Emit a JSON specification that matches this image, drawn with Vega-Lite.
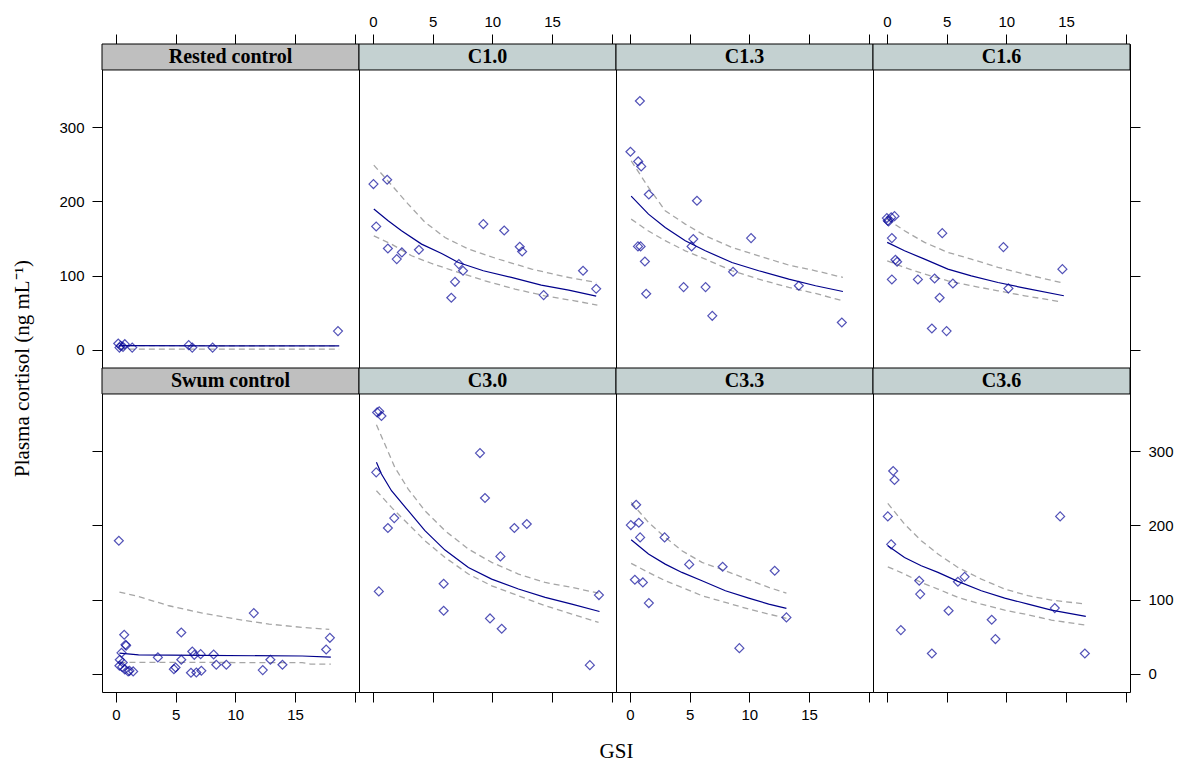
{
"$schema": "https://vega.github.io/schema/vega-lite/v6.json",
"background": "white",
"padding": {"left": 10, "top": 13, "right": 5, "bottom": 5},
"datasets": {
"strips": [{"panel":"Rested control"},{"panel":"C1.0"},{"panel":"C1.3"},{"panel":"C1.6"},{"panel":"Swum control"},{"panel":"C3.0"},{"panel":"C3.3"},{"panel":"C3.6"}],
"pts": [
{"panel":"Rested control","GSI":0.2,"cortisol":8.5},{"panel":"Rested control","GSI":0.4,"cortisol":5.4},{"panel":"Rested control","GSI":0.6,"cortisol":4},{"panel":"Rested control","GSI":0.75,"cortisol":7.6},{"panel":"Rested control","GSI":0.3,"cortisol":3},{"panel":"Rested control","GSI":1.37,"cortisol":3},{"panel":"Rested control","GSI":6.1,"cortisol":6.3},{"panel":"Rested control","GSI":6.4,"cortisol":3},{"panel":"Rested control","GSI":8.1,"cortisol":3},{"panel":"Rested control","GSI":18.6,"cortisol":25.2},
{"panel":"C1.0","GSI":0.05,"cortisol":223.3},{"panel":"C1.0","GSI":1.2,"cortisol":229.1},{"panel":"C1.0","GSI":0.28,"cortisol":166.2},{"panel":"C1.0","GSI":1.26,"cortisol":136.5},{"panel":"C1.0","GSI":2.0,"cortisol":122.2},{"panel":"C1.0","GSI":2.43,"cortisol":131.2},{"panel":"C1.0","GSI":3.86,"cortisol":134.8},{"panel":"C1.0","GSI":9.25,"cortisol":169.4},{"panel":"C1.0","GSI":11.0,"cortisol":160.8},{"panel":"C1.0","GSI":12.3,"cortisol":138.8},{"panel":"C1.0","GSI":12.5,"cortisol":132.5},{"panel":"C1.0","GSI":7.2,"cortisol":115.5},{"panel":"C1.0","GSI":7.55,"cortisol":106.5},{"panel":"C1.0","GSI":6.88,"cortisol":91.6},{"panel":"C1.0","GSI":6.57,"cortisol":70.1},{"panel":"C1.0","GSI":14.3,"cortisol":73.7},{"panel":"C1.0","GSI":17.6,"cortisol":106.5},{"panel":"C1.0","GSI":18.7,"cortisol":82.2},
{"panel":"C1.3","GSI":0.84,"cortisol":335.2},{"panel":"C1.3","GSI":0.05,"cortisol":266.8},{"panel":"C1.3","GSI":0.7,"cortisol":253.8},{"panel":"C1.3","GSI":0.95,"cortisol":247.1},{"panel":"C1.3","GSI":1.59,"cortisol":209.3},{"panel":"C1.3","GSI":5.62,"cortisol":200.8},{"panel":"C1.3","GSI":5.31,"cortisol":149.2},{"panel":"C1.3","GSI":5.17,"cortisol":139.3},{"panel":"C1.3","GSI":10.15,"cortisol":150.5},{"panel":"C1.3","GSI":0.68,"cortisol":139.3},{"panel":"C1.3","GSI":0.9,"cortisol":139.3},{"panel":"C1.3","GSI":1.26,"cortisol":119.0},{"panel":"C1.3","GSI":1.37,"cortisol":75.5},{"panel":"C1.3","GSI":4.5,"cortisol":84.5},{"panel":"C1.3","GSI":6.34,"cortisol":84.5},{"panel":"C1.3","GSI":6.9,"cortisol":45.8},{"panel":"C1.3","GSI":8.64,"cortisol":105.1},{"panel":"C1.3","GSI":14.15,"cortisol":86.3},{"panel":"C1.3","GSI":17.75,"cortisol":36.8},
{"panel":"C1.6","GSI":0.0,"cortisol":177.5},{"panel":"C1.6","GSI":0.14,"cortisol":173.0},{"panel":"C1.6","GSI":0.36,"cortisol":178.4},{"panel":"C1.6","GSI":0.64,"cortisol":180.1},{"panel":"C1.6","GSI":0.08,"cortisol":174.0},{"panel":"C1.6","GSI":0.42,"cortisol":150.5},{"panel":"C1.6","GSI":4.64,"cortisol":157.2},{"panel":"C1.6","GSI":9.76,"cortisol":138.4},{"panel":"C1.6","GSI":14.7,"cortisol":108.7},{"panel":"C1.6","GSI":0.72,"cortisol":121.3},{"panel":"C1.6","GSI":0.86,"cortisol":118.6},{"panel":"C1.6","GSI":0.42,"cortisol":94.8},{"panel":"C1.6","GSI":2.6,"cortisol":94.8},{"panel":"C1.6","GSI":4.0,"cortisol":96.1},{"panel":"C1.6","GSI":5.53,"cortisol":89.4},{"panel":"C1.6","GSI":4.42,"cortisol":70.1},{"panel":"C1.6","GSI":10.18,"cortisol":82.7},{"panel":"C1.6","GSI":3.77,"cortisol":28.7},{"panel":"C1.6","GSI":5.0,"cortisol":25.2},
{"panel":"Swum control","GSI":0.25,"cortisol":179.3},{"panel":"Swum control","GSI":0.7,"cortisol":52.6},{"panel":"Swum control","GSI":0.81,"cortisol":39.1},{"panel":"Swum control","GSI":0.86,"cortisol":38.0},{"panel":"Swum control","GSI":0.47,"cortisol":28.3},{"panel":"Swum control","GSI":0.33,"cortisol":18.9},{"panel":"Swum control","GSI":0.58,"cortisol":15.3},{"panel":"Swum control","GSI":0.3,"cortisol":10.8},{"panel":"Swum control","GSI":0.53,"cortisol":9.3},{"panel":"Swum control","GSI":0.75,"cortisol":5.9},{"panel":"Swum control","GSI":1.03,"cortisol":3.2},{"panel":"Swum control","GSI":1.14,"cortisol":4.0},{"panel":"Swum control","GSI":1.45,"cortisol":3.2},{"panel":"Swum control","GSI":3.52,"cortisol":22.1},{"panel":"Swum control","GSI":5.48,"cortisol":55.7},{"panel":"Swum control","GSI":5.48,"cortisol":18.9},{"panel":"Swum control","GSI":4.86,"cortisol":6.3},{"panel":"Swum control","GSI":5.0,"cortisol":8.5},{"panel":"Swum control","GSI":6.4,"cortisol":30.1},{"panel":"Swum control","GSI":6.57,"cortisol":25.6},{"panel":"Swum control","GSI":7.1,"cortisol":26.5},{"panel":"Swum control","GSI":6.29,"cortisol":1.4},{"panel":"Swum control","GSI":6.74,"cortisol":1.8},{"panel":"Swum control","GSI":7.16,"cortisol":4.1},{"panel":"Swum control","GSI":8.19,"cortisol":26.0},{"panel":"Swum control","GSI":8.41,"cortisol":12.2},{"panel":"Swum control","GSI":9.25,"cortisol":12.2},{"panel":"Swum control","GSI":11.55,"cortisol":81.8},{"panel":"Swum control","GSI":12.3,"cortisol":5.0},{"panel":"Swum control","GSI":12.94,"cortisol":18.9},{"panel":"Swum control","GSI":13.95,"cortisol":12.2},{"panel":"Swum control","GSI":17.61,"cortisol":32.8},{"panel":"Swum control","GSI":17.92,"cortisol":48.5},
{"panel":"C3.0","GSI":0.36,"cortisol":352.2},{"panel":"C3.0","GSI":0.53,"cortisol":353.6},{"panel":"C3.0","GSI":0.72,"cortisol":347.3},{"panel":"C3.0","GSI":0.28,"cortisol":271.4},{"panel":"C3.0","GSI":0.5,"cortisol":111.0},{"panel":"C3.0","GSI":1.26,"cortisol":196.4},{"panel":"C3.0","GSI":1.79,"cortisol":209.8},{"panel":"C3.0","GSI":8.97,"cortisol":297.4},{"panel":"C3.0","GSI":9.39,"cortisol":236.8},{"panel":"C3.0","GSI":11.85,"cortisol":196.4},{"panel":"C3.0","GSI":12.89,"cortisol":201.8},{"panel":"C3.0","GSI":10.68,"cortisol":158.2},{"panel":"C3.0","GSI":5.93,"cortisol":121.3},{"panel":"C3.0","GSI":5.93,"cortisol":84.9},{"panel":"C3.0","GSI":9.81,"cortisol":74.6},{"panel":"C3.0","GSI":10.79,"cortisol":60.7},{"panel":"C3.0","GSI":18.93,"cortisol":106.1},{"panel":"C3.0","GSI":18.17,"cortisol":11.7},
{"panel":"C3.3","GSI":0.53,"cortisol":227.8},{"panel":"C3.3","GSI":0.08,"cortisol":200.4},{"panel":"C3.3","GSI":0.75,"cortisol":203.5},{"panel":"C3.3","GSI":0.86,"cortisol":183.8},{"panel":"C3.3","GSI":2.91,"cortisol":183.8},{"panel":"C3.3","GSI":4.97,"cortisol":147.4},{"panel":"C3.3","GSI":7.77,"cortisol":144.2},{"panel":"C3.3","GSI":12.13,"cortisol":138.8},{"panel":"C3.3","GSI":0.42,"cortisol":126.7},{"panel":"C3.3","GSI":1.09,"cortisol":123.1},{"panel":"C3.3","GSI":1.59,"cortisol":95.3},{"panel":"C3.3","GSI":13.11,"cortisol":76.0},{"panel":"C3.3","GSI":9.17,"cortisol":34.6},
{"panel":"C3.6","GSI":0.53,"cortisol":273.2},{"panel":"C3.6","GSI":0.64,"cortisol":261.1},{"panel":"C3.6","GSI":0.08,"cortisol":212.1},{"panel":"C3.6","GSI":14.51,"cortisol":212.1},{"panel":"C3.6","GSI":0.36,"cortisol":174.4},{"panel":"C3.6","GSI":2.71,"cortisol":125.4},{"panel":"C3.6","GSI":2.79,"cortisol":107.4},{"panel":"C3.6","GSI":5.95,"cortisol":124.0},{"panel":"C3.6","GSI":6.51,"cortisol":130.7},{"panel":"C3.6","GSI":5.17,"cortisol":84.9},{"panel":"C3.6","GSI":8.78,"cortisol":72.8},{"panel":"C3.6","GSI":9.09,"cortisol":46.8},{"panel":"C3.6","GSI":14.06,"cortisol":88.5},{"panel":"C3.6","GSI":1.17,"cortisol":58.9},{"panel":"C3.6","GSI":3.77,"cortisol":27.4},{"panel":"C3.6","GSI":16.58,"cortisol":27.4}
],
"fits": [
{"panel":"Rested control","band":"fit","GSI":0.25,"cortisol":5.6},{"panel":"Rested control","band":"fit","GSI":9,"cortisol":5.4},{"panel":"Rested control","band":"fit","GSI":18.7,"cortisol":5.3},
{"panel":"Rested control","band":"upper","GSI":0.25,"cortisol":5.6},{"panel":"Rested control","band":"upper","GSI":18.7,"cortisol":5.4},
{"panel":"Rested control","band":"lower","GSI":0.25,"cortisol":1.0},{"panel":"Rested control","band":"lower","GSI":18.7,"cortisol":1.0},
{"panel":"C1.0","band":"fit","GSI":0.08,"cortisol":189.6},{"panel":"C1.0","band":"fit","GSI":1.28,"cortisol":173.9},{"panel":"C1.0","band":"fit","GSI":2.4,"cortisol":160.4},{"panel":"C1.0","band":"fit","GSI":4.08,"cortisol":142.4},{"panel":"C1.0","band":"fit","GSI":5.76,"cortisol":129.8},{"panel":"C1.0","band":"fit","GSI":7.16,"cortisol":117.7},{"panel":"C1.0","band":"fit","GSI":9.25,"cortisol":106.5},{"panel":"C1.0","band":"fit","GSI":11.6,"cortisol":97.5},{"panel":"C1.0","band":"fit","GSI":14.1,"cortisol":87.2},{"panel":"C1.0","band":"fit","GSI":16.4,"cortisol":80.4},{"panel":"C1.0","band":"fit","GSI":18.7,"cortisol":72.3},
{"panel":"C1.0","band":"upper","GSI":0.08,"cortisol":248.9},{"panel":"C1.0","band":"upper","GSI":1.56,"cortisol":222.0},{"panel":"C1.0","band":"upper","GSI":2.96,"cortisol":196.3},{"panel":"C1.0","band":"upper","GSI":4.36,"cortisol":172.0},{"panel":"C1.0","band":"upper","GSI":6.04,"cortisol":151.3},{"panel":"C1.0","band":"upper","GSI":8.0,"cortisol":135.7},{"panel":"C1.0","band":"upper","GSI":10.5,"cortisol":122.2},{"panel":"C1.0","band":"upper","GSI":13.3,"cortisol":108.7},{"panel":"C1.0","band":"upper","GSI":16.1,"cortisol":98.4},{"panel":"C1.0","band":"upper","GSI":18.7,"cortisol":90.7},
{"panel":"C1.0","band":"lower","GSI":0.08,"cortisol":153.6},{"panel":"C1.0","band":"lower","GSI":1.56,"cortisol":142.4},{"panel":"C1.0","band":"lower","GSI":3.24,"cortisol":126.7},{"panel":"C1.0","band":"lower","GSI":4.92,"cortisol":116.3},{"panel":"C1.0","band":"lower","GSI":7.16,"cortisol":104.2},{"panel":"C1.0","band":"lower","GSI":9.4,"cortisol":93.0},{"panel":"C1.0","band":"lower","GSI":11.9,"cortisol":81.8},{"panel":"C1.0","band":"lower","GSI":14.4,"cortisol":72.8},{"panel":"C1.0","band":"lower","GSI":16.9,"cortisol":66.0},{"panel":"C1.0","band":"lower","GSI":18.8,"cortisol":60.2},
{"panel":"C1.3","band":"fit","GSI":0.11,"cortisol":207.1},{"panel":"C1.3","band":"fit","GSI":1.56,"cortisol":182.8},{"panel":"C1.3","band":"fit","GSI":2.96,"cortisol":164.9},{"panel":"C1.3","band":"fit","GSI":4.64,"cortisol":146.9},{"panel":"C1.3","band":"fit","GSI":6.32,"cortisol":133.4},{"panel":"C1.3","band":"fit","GSI":8.55,"cortisol":117.7},{"panel":"C1.3","band":"fit","GSI":10.79,"cortisol":106.5},{"panel":"C1.3","band":"fit","GSI":13.31,"cortisol":95.2},{"panel":"C1.3","band":"fit","GSI":15.55,"cortisol":86.3},{"panel":"C1.3","band":"fit","GSI":17.84,"cortisol":78.6},
{"panel":"C1.3","band":"upper","GSI":0.11,"cortisol":254.7},{"panel":"C1.3","band":"upper","GSI":1.56,"cortisol":218.8},{"panel":"C1.3","band":"upper","GSI":2.96,"cortisol":187.3},{"panel":"C1.3","band":"upper","GSI":4.64,"cortisol":169.4},{"panel":"C1.3","band":"upper","GSI":6.32,"cortisol":153.6},{"panel":"C1.3","band":"upper","GSI":8.55,"cortisol":137.9},{"panel":"C1.3","band":"upper","GSI":10.79,"cortisol":126.7},{"panel":"C1.3","band":"upper","GSI":13.31,"cortisol":114.1},{"panel":"C1.3","band":"upper","GSI":15.55,"cortisol":106.5},{"panel":"C1.3","band":"upper","GSI":17.84,"cortisol":97.5},
{"panel":"C1.3","band":"lower","GSI":0.11,"cortisol":176.1},{"panel":"C1.3","band":"lower","GSI":1.56,"cortisol":160.0},{"panel":"C1.3","band":"lower","GSI":2.96,"cortisol":147.0},{"panel":"C1.3","band":"lower","GSI":4.64,"cortisol":133.4},{"panel":"C1.3","band":"lower","GSI":6.32,"cortisol":122.2},{"panel":"C1.3","band":"lower","GSI":8.55,"cortisol":106.5},{"panel":"C1.3","band":"lower","GSI":10.79,"cortisol":95.2},{"panel":"C1.3","band":"lower","GSI":13.31,"cortisol":84.0},{"panel":"C1.3","band":"lower","GSI":15.55,"cortisol":75.9},{"panel":"C1.3","band":"lower","GSI":17.84,"cortisol":66.0},
{"panel":"C1.6","band":"fit","GSI":0.03,"cortisol":144.7},{"panel":"C1.6","band":"fit","GSI":1.48,"cortisol":133.4},{"panel":"C1.6","band":"fit","GSI":3.16,"cortisol":122.2},{"panel":"C1.6","band":"fit","GSI":5.11,"cortisol":108.7},{"panel":"C1.6","band":"fit","GSI":7.07,"cortisol":99.7},{"panel":"C1.6","band":"fit","GSI":9.31,"cortisol":90.7},{"panel":"C1.6","band":"fit","GSI":11.55,"cortisol":83.1},{"panel":"C1.6","band":"fit","GSI":14.82,"cortisol":72.8},
{"panel":"C1.6","band":"upper","GSI":0.03,"cortisol":176.1},{"panel":"C1.6","band":"upper","GSI":1.48,"cortisol":160.4},{"panel":"C1.6","band":"upper","GSI":3.16,"cortisol":144.7},{"panel":"C1.6","band":"upper","GSI":5.11,"cortisol":131.2},{"panel":"C1.6","band":"upper","GSI":7.07,"cortisol":122.2},{"panel":"C1.6","band":"upper","GSI":9.31,"cortisol":111.0},{"panel":"C1.6","band":"upper","GSI":11.55,"cortisol":102.0},{"panel":"C1.6","band":"upper","GSI":14.82,"cortisol":89.8},
{"panel":"C1.6","band":"lower","GSI":0.03,"cortisol":119.9},{"panel":"C1.6","band":"lower","GSI":1.48,"cortisol":111.0},{"panel":"C1.6","band":"lower","GSI":3.16,"cortisol":102.0},{"panel":"C1.6","band":"lower","GSI":5.11,"cortisol":93.0},{"panel":"C1.6","band":"lower","GSI":7.07,"cortisol":86.3},{"panel":"C1.6","band":"lower","GSI":9.31,"cortisol":79.5},{"panel":"C1.6","band":"lower","GSI":11.55,"cortisol":72.8},{"panel":"C1.6","band":"lower","GSI":14.6,"cortisol":64.7},
{"panel":"Swum control","band":"fit","GSI":0.3,"cortisol":27.9},{"panel":"Swum control","band":"fit","GSI":1.9,"cortisol":25.5},{"panel":"Swum control","band":"fit","GSI":7.2,"cortisol":24.8},{"panel":"Swum control","band":"fit","GSI":15.6,"cortisol":24.0},{"panel":"Swum control","band":"fit","GSI":18.0,"cortisol":22.5},
{"panel":"Swum control","band":"upper","GSI":0.3,"cortisol":110.1},{"panel":"Swum control","band":"upper","GSI":1.65,"cortisol":105.2},{"panel":"Swum control","band":"upper","GSI":4.44,"cortisol":91.7},{"panel":"Swum control","band":"upper","GSI":7.24,"cortisol":81.8},{"panel":"Swum control","band":"upper","GSI":10.04,"cortisol":73.7},{"panel":"Swum control","band":"upper","GSI":12.83,"cortisol":67.0},{"panel":"Swum control","band":"upper","GSI":15.63,"cortisol":62.5},{"panel":"Swum control","band":"upper","GSI":17.87,"cortisol":59.8},
{"panel":"Swum control","band":"lower","GSI":0.3,"cortisol":15.3},{"panel":"Swum control","band":"lower","GSI":7.2,"cortisol":15.3},{"panel":"Swum control","band":"lower","GSI":15.6,"cortisol":15.0},{"panel":"Swum control","band":"lower","GSI":16.3,"cortisol":13.1},{"panel":"Swum control","band":"lower","GSI":18.0,"cortisol":13.1},
{"panel":"C3.0","band":"fit","GSI":0.3,"cortisol":284.9},{"panel":"C3.0","band":"fit","GSI":0.72,"cortisol":269.1},{"panel":"C3.0","band":"fit","GSI":1.56,"cortisol":246.7},{"panel":"C3.0","band":"fit","GSI":2.96,"cortisol":219.7},{"panel":"C3.0","band":"fit","GSI":4.36,"cortisol":192.8},{"panel":"C3.0","band":"fit","GSI":6.04,"cortisol":166.7},{"panel":"C3.0","band":"fit","GSI":8.0,"cortisol":143.3},{"panel":"C3.0","band":"fit","GSI":9.95,"cortisol":127.6},{"panel":"C3.0","band":"fit","GSI":12.19,"cortisol":114.2},{"panel":"C3.0","band":"fit","GSI":14.43,"cortisol":102.9},{"panel":"C3.0","band":"fit","GSI":16.66,"cortisol":93.9},{"panel":"C3.0","band":"fit","GSI":18.98,"cortisol":84.0},
{"panel":"C3.0","band":"upper","GSI":0.3,"cortisol":335.6},{"panel":"C3.0","band":"upper","GSI":1.0,"cortisol":309.6},{"panel":"C3.0","band":"upper","GSI":1.84,"cortisol":278.1},{"panel":"C3.0","band":"upper","GSI":2.96,"cortisol":248.9},{"panel":"C3.0","band":"upper","GSI":4.36,"cortisol":219.7},{"panel":"C3.0","band":"upper","GSI":6.04,"cortisol":192.8},{"panel":"C3.0","band":"upper","GSI":8.0,"cortisol":168.1},{"panel":"C3.0","band":"upper","GSI":9.95,"cortisol":150.1},{"panel":"C3.0","band":"upper","GSI":12.19,"cortisol":134.4},{"panel":"C3.0","band":"upper","GSI":14.43,"cortisol":123.1},{"panel":"C3.0","band":"upper","GSI":16.66,"cortisol":116.4},{"panel":"C3.0","band":"upper","GSI":18.9,"cortisol":108.8},
{"panel":"C3.0","band":"lower","GSI":0.3,"cortisol":246.7},{"panel":"C3.0","band":"lower","GSI":1.56,"cortisol":224.2},{"panel":"C3.0","band":"lower","GSI":2.96,"cortisol":201.8},{"panel":"C3.0","band":"lower","GSI":4.36,"cortisol":179.3},{"panel":"C3.0","band":"lower","GSI":6.04,"cortisol":156.8},{"panel":"C3.0","band":"lower","GSI":8.0,"cortisol":134.4},{"panel":"C3.0","band":"lower","GSI":9.95,"cortisol":118.6},{"panel":"C3.0","band":"lower","GSI":12.19,"cortisol":105.2},{"panel":"C3.0","band":"lower","GSI":14.43,"cortisol":91.7},{"panel":"C3.0","band":"lower","GSI":16.66,"cortisol":80.5},{"panel":"C3.0","band":"lower","GSI":18.9,"cortisol":69.2},
{"panel":"C3.3","band":"fit","GSI":0.11,"cortisol":180.6},{"panel":"C3.3","band":"fit","GSI":1.56,"cortisol":161.3},{"panel":"C3.3","band":"fit","GSI":2.96,"cortisol":147.8},{"panel":"C3.3","band":"fit","GSI":4.36,"cortisol":136.6},{"panel":"C3.3","band":"fit","GSI":6.04,"cortisol":125.4},{"panel":"C3.3","band":"fit","GSI":8.0,"cortisol":111.9},{"panel":"C3.3","band":"fit","GSI":9.95,"cortisol":102.0},{"panel":"C3.3","band":"fit","GSI":11.63,"cortisol":93.9},{"panel":"C3.3","band":"fit","GSI":13.11,"cortisol":88.1},
{"panel":"C3.3","band":"upper","GSI":0.11,"cortisol":230.9},{"panel":"C3.3","band":"upper","GSI":1.56,"cortisol":204.0},{"panel":"C3.3","band":"upper","GSI":2.96,"cortisol":183.8},{"panel":"C3.3","band":"upper","GSI":4.36,"cortisol":165.8},{"panel":"C3.3","band":"upper","GSI":6.04,"cortisol":150.1},{"panel":"C3.3","band":"upper","GSI":8.0,"cortisol":138.8},{"panel":"C3.3","band":"upper","GSI":9.95,"cortisol":126.7},{"panel":"C3.3","band":"upper","GSI":11.63,"cortisol":116.4},{"panel":"C3.3","band":"upper","GSI":13.11,"cortisol":108.8},
{"panel":"C3.3","band":"lower","GSI":0.11,"cortisol":148.7},{"panel":"C3.3","band":"lower","GSI":1.56,"cortisol":136.6},{"panel":"C3.3","band":"lower","GSI":2.96,"cortisol":125.4},{"panel":"C3.3","band":"lower","GSI":4.36,"cortisol":116.4},{"panel":"C3.3","band":"lower","GSI":6.04,"cortisol":105.2},{"panel":"C3.3","band":"lower","GSI":8.0,"cortisol":96.2},{"panel":"C3.3","band":"lower","GSI":9.95,"cortisol":87.2},{"panel":"C3.3","band":"lower","GSI":11.63,"cortisol":80.5},{"panel":"C3.3","band":"lower","GSI":13.11,"cortisol":74.6},
{"panel":"C3.6","band":"fit","GSI":0.08,"cortisol":172.5},{"panel":"C3.6","band":"fit","GSI":1.48,"cortisol":156.8},{"panel":"C3.6","band":"fit","GSI":2.88,"cortisol":145.6},{"panel":"C3.6","band":"fit","GSI":4.28,"cortisol":136.6},{"panel":"C3.6","band":"fit","GSI":5.95,"cortisol":124.5},{"panel":"C3.6","band":"fit","GSI":7.91,"cortisol":111.9},{"panel":"C3.6","band":"fit","GSI":9.87,"cortisol":102.0},{"panel":"C3.6","band":"fit","GSI":11.83,"cortisol":93.9},{"panel":"C3.6","band":"fit","GSI":13.78,"cortisol":85.8},{"panel":"C3.6","band":"fit","GSI":16.66,"cortisol":77.3},
{"panel":"C3.6","band":"upper","GSI":0.08,"cortisol":229.6},{"panel":"C3.6","band":"upper","GSI":1.48,"cortisol":201.8},{"panel":"C3.6","band":"upper","GSI":2.88,"cortisol":179.3},{"panel":"C3.6","band":"upper","GSI":4.28,"cortisol":161.3},{"panel":"C3.6","band":"upper","GSI":5.95,"cortisol":143.3},{"panel":"C3.6","band":"upper","GSI":7.91,"cortisol":127.6},{"panel":"C3.6","band":"upper","GSI":9.87,"cortisol":114.2},{"panel":"C3.6","band":"upper","GSI":11.83,"cortisol":105.2},{"panel":"C3.6","band":"upper","GSI":13.78,"cortisol":99.3},{"panel":"C3.6","band":"upper","GSI":16.66,"cortisol":93.9},
{"panel":"C3.6","band":"lower","GSI":0.08,"cortisol":144.2},{"panel":"C3.6","band":"lower","GSI":1.48,"cortisol":134.4},{"panel":"C3.6","band":"lower","GSI":2.88,"cortisol":123.1},{"panel":"C3.6","band":"lower","GSI":4.28,"cortisol":114.2},{"panel":"C3.6","band":"lower","GSI":5.95,"cortisol":102.9},{"panel":"C3.6","band":"lower","GSI":7.91,"cortisol":93.9},{"panel":"C3.6","band":"lower","GSI":9.87,"cortisol":85.8},{"panel":"C3.6","band":"lower","GSI":11.83,"cortisol":79.5},{"panel":"C3.6","band":"lower","GSI":13.78,"cortisol":72.4},{"panel":"C3.6","band":"lower","GSI":16.66,"cortisol":65.6}
]
},
"columns": 4,
"spacing": 0,
"bounds": "flush",
"concat": [
{"width": 257, "height": 324, "layer": [
{"data": {"name": "strips"}, "transform": [{"filter": {"field": "panel", "equal": "Rested control"}}], "mark": {"type": "rect", "fill": "#bfbfbf", "stroke": "#000000", "strokeWidth": 1}, "encoding": {"x": {"datum": -1.16, "type": "quantitative", "scale": {"domain": [-1.16, 20.36], "nice": false, "zero": false}, "axis": {"orient": "top", "values": [0, 5, 10, 15, 20], "labels": false, "title": null}}, "x2": {"datum": 20.36}, "y": {"datum": 377, "type": "quantitative", "scale": {"domain": [-24.5, 412], "nice": false, "zero": false}, "axis": {"orient": "left", "values": [0, 100, 200, 300], "title": "Plasma cortisol (ng mL⁻¹)", "titleX": -80, "titleY": 324, "titleAngle": -90, "titleAlign": "center", "titleBaseline": "middle"}}, "y2": {"datum": 412}}},
{"data": {"name": "strips"}, "transform": [{"filter": {"field": "panel", "equal": "Rested control"}}], "mark": {"type": "text", "font": "Liberation Serif", "fontWeight": "bold", "fontSize": 20, "baseline": "middle", "align": "center", "color": "#000000"}, "encoding": {"x": {"datum": 9.6, "type": "quantitative", "scale": {"domain": [-1.16, 20.36], "nice": false, "zero": false}, "axis": {"orient": "top", "values": [0, 5, 10, 15, 20], "labels": false, "title": null}}, "y": {"datum": 394.5, "type": "quantitative", "scale": {"domain": [-24.5, 412], "nice": false, "zero": false}, "axis": {"orient": "left", "values": [0, 100, 200, 300], "title": "Plasma cortisol (ng mL⁻¹)", "titleX": -80, "titleY": 324, "titleAngle": -90, "titleAlign": "center", "titleBaseline": "middle"}}, "text": {"field": "panel"}}},
{"data": {"name": "fits"}, "transform": [{"filter": {"field": "panel", "equal": "Rested control"}}, {"filter": {"field": "band", "oneOf": ["upper", "lower"]}}], "mark": {"type": "line", "stroke": "#a6a6a6", "strokeWidth": 1.3, "strokeDash": [6, 4]}, "encoding": {"x": {"field": "GSI", "type": "quantitative", "scale": {"domain": [-1.16, 20.36], "nice": false, "zero": false}, "axis": {"orient": "top", "values": [0, 5, 10, 15, 20], "labels": false, "title": null}}, "y": {"field": "cortisol", "type": "quantitative", "scale": {"domain": [-24.5, 412], "nice": false, "zero": false}, "axis": {"orient": "left", "values": [0, 100, 200, 300], "title": "Plasma cortisol (ng mL⁻¹)", "titleX": -80, "titleY": 324, "titleAngle": -90, "titleAlign": "center", "titleBaseline": "middle"}}, "detail": {"field": "band", "type": "nominal"}}},
{"data": {"name": "fits"}, "transform": [{"filter": {"field": "panel", "equal": "Rested control"}}, {"filter": {"field": "band", "equal": "fit"}}], "mark": {"type": "line", "stroke": "#00008b", "strokeWidth": 1.2}, "encoding": {"x": {"field": "GSI", "type": "quantitative", "scale": {"domain": [-1.16, 20.36], "nice": false, "zero": false}, "axis": {"orient": "top", "values": [0, 5, 10, 15, 20], "labels": false, "title": null}}, "y": {"field": "cortisol", "type": "quantitative", "scale": {"domain": [-24.5, 412], "nice": false, "zero": false}, "axis": {"orient": "left", "values": [0, 100, 200, 300], "title": "Plasma cortisol (ng mL⁻¹)", "titleX": -80, "titleY": 324, "titleAngle": -90, "titleAlign": "center", "titleBaseline": "middle"}}}},
{"data": {"name": "pts"}, "transform": [{"filter": {"field": "panel", "equal": "Rested control"}}], "mark": {"type": "point", "shape": "diamond", "size": 80, "filled": false, "stroke": "#0a0a9a", "strokeWidth": 1.2}, "encoding": {"x": {"field": "GSI", "type": "quantitative", "scale": {"domain": [-1.16, 20.36], "nice": false, "zero": false}, "axis": {"orient": "top", "values": [0, 5, 10, 15, 20], "labels": false, "title": null}}, "y": {"field": "cortisol", "type": "quantitative", "scale": {"domain": [-24.5, 412], "nice": false, "zero": false}, "axis": {"orient": "left", "values": [0, 100, 200, 300], "title": "Plasma cortisol (ng mL⁻¹)", "titleX": -80, "titleY": 324, "titleAngle": -90, "titleAlign": "center", "titleBaseline": "middle"}}}}
]},
{"width": 257, "height": 324, "layer": [
{"data": {"name": "strips"}, "transform": [{"filter": {"field": "panel", "equal": "C1.0"}}], "mark": {"type": "rect", "fill": "#c4d1d1", "stroke": "#000000", "strokeWidth": 1}, "encoding": {"x": {"datum": -1.16, "type": "quantitative", "scale": {"domain": [-1.16, 20.36], "nice": false, "zero": false}, "axis": {"orient": "top", "values": [0, 5, 10, 15, 20], "labelExpr": "datum.value == 20 ? '' : datum.label", "title": null}}, "x2": {"datum": 20.36}, "y": {"datum": 377, "type": "quantitative", "scale": {"domain": [-24.5, 412], "nice": false, "zero": false}, "axis": null}, "y2": {"datum": 412}}},
{"data": {"name": "strips"}, "transform": [{"filter": {"field": "panel", "equal": "C1.0"}}], "mark": {"type": "text", "font": "Liberation Serif", "fontWeight": "bold", "fontSize": 20, "baseline": "middle", "align": "center", "color": "#000000"}, "encoding": {"x": {"datum": 9.6, "type": "quantitative", "scale": {"domain": [-1.16, 20.36], "nice": false, "zero": false}, "axis": {"orient": "top", "values": [0, 5, 10, 15, 20], "labelExpr": "datum.value == 20 ? '' : datum.label", "title": null}}, "y": {"datum": 394.5, "type": "quantitative", "scale": {"domain": [-24.5, 412], "nice": false, "zero": false}, "axis": null}, "text": {"field": "panel"}}},
{"data": {"name": "fits"}, "transform": [{"filter": {"field": "panel", "equal": "C1.0"}}, {"filter": {"field": "band", "oneOf": ["upper", "lower"]}}], "mark": {"type": "line", "stroke": "#a6a6a6", "strokeWidth": 1.3, "strokeDash": [6, 4]}, "encoding": {"x": {"field": "GSI", "type": "quantitative", "scale": {"domain": [-1.16, 20.36], "nice": false, "zero": false}, "axis": {"orient": "top", "values": [0, 5, 10, 15, 20], "labelExpr": "datum.value == 20 ? '' : datum.label", "title": null}}, "y": {"field": "cortisol", "type": "quantitative", "scale": {"domain": [-24.5, 412], "nice": false, "zero": false}, "axis": null}, "detail": {"field": "band", "type": "nominal"}}},
{"data": {"name": "fits"}, "transform": [{"filter": {"field": "panel", "equal": "C1.0"}}, {"filter": {"field": "band", "equal": "fit"}}], "mark": {"type": "line", "stroke": "#00008b", "strokeWidth": 1.2}, "encoding": {"x": {"field": "GSI", "type": "quantitative", "scale": {"domain": [-1.16, 20.36], "nice": false, "zero": false}, "axis": {"orient": "top", "values": [0, 5, 10, 15, 20], "labelExpr": "datum.value == 20 ? '' : datum.label", "title": null}}, "y": {"field": "cortisol", "type": "quantitative", "scale": {"domain": [-24.5, 412], "nice": false, "zero": false}, "axis": null}}},
{"data": {"name": "pts"}, "transform": [{"filter": {"field": "panel", "equal": "C1.0"}}], "mark": {"type": "point", "shape": "diamond", "size": 80, "filled": false, "stroke": "#0a0a9a", "strokeWidth": 1.2}, "encoding": {"x": {"field": "GSI", "type": "quantitative", "scale": {"domain": [-1.16, 20.36], "nice": false, "zero": false}, "axis": {"orient": "top", "values": [0, 5, 10, 15, 20], "labelExpr": "datum.value == 20 ? '' : datum.label", "title": null}}, "y": {"field": "cortisol", "type": "quantitative", "scale": {"domain": [-24.5, 412], "nice": false, "zero": false}, "axis": null}}}
]},
{"width": 257, "height": 324, "layer": [
{"data": {"name": "strips"}, "transform": [{"filter": {"field": "panel", "equal": "C1.3"}}], "mark": {"type": "rect", "fill": "#c4d1d1", "stroke": "#000000", "strokeWidth": 1}, "encoding": {"x": {"datum": -1.16, "type": "quantitative", "scale": {"domain": [-1.16, 20.36], "nice": false, "zero": false}, "axis": {"orient": "top", "values": [0, 5, 10, 15, 20], "labels": false, "title": null}}, "x2": {"datum": 20.36}, "y": {"datum": 377, "type": "quantitative", "scale": {"domain": [-24.5, 412], "nice": false, "zero": false}, "axis": null}, "y2": {"datum": 412}}},
{"data": {"name": "strips"}, "transform": [{"filter": {"field": "panel", "equal": "C1.3"}}], "mark": {"type": "text", "font": "Liberation Serif", "fontWeight": "bold", "fontSize": 20, "baseline": "middle", "align": "center", "color": "#000000"}, "encoding": {"x": {"datum": 9.6, "type": "quantitative", "scale": {"domain": [-1.16, 20.36], "nice": false, "zero": false}, "axis": {"orient": "top", "values": [0, 5, 10, 15, 20], "labels": false, "title": null}}, "y": {"datum": 394.5, "type": "quantitative", "scale": {"domain": [-24.5, 412], "nice": false, "zero": false}, "axis": null}, "text": {"field": "panel"}}},
{"data": {"name": "fits"}, "transform": [{"filter": {"field": "panel", "equal": "C1.3"}}, {"filter": {"field": "band", "oneOf": ["upper", "lower"]}}], "mark": {"type": "line", "stroke": "#a6a6a6", "strokeWidth": 1.3, "strokeDash": [6, 4]}, "encoding": {"x": {"field": "GSI", "type": "quantitative", "scale": {"domain": [-1.16, 20.36], "nice": false, "zero": false}, "axis": {"orient": "top", "values": [0, 5, 10, 15, 20], "labels": false, "title": null}}, "y": {"field": "cortisol", "type": "quantitative", "scale": {"domain": [-24.5, 412], "nice": false, "zero": false}, "axis": null}, "detail": {"field": "band", "type": "nominal"}}},
{"data": {"name": "fits"}, "transform": [{"filter": {"field": "panel", "equal": "C1.3"}}, {"filter": {"field": "band", "equal": "fit"}}], "mark": {"type": "line", "stroke": "#00008b", "strokeWidth": 1.2}, "encoding": {"x": {"field": "GSI", "type": "quantitative", "scale": {"domain": [-1.16, 20.36], "nice": false, "zero": false}, "axis": {"orient": "top", "values": [0, 5, 10, 15, 20], "labels": false, "title": null}}, "y": {"field": "cortisol", "type": "quantitative", "scale": {"domain": [-24.5, 412], "nice": false, "zero": false}, "axis": null}}},
{"data": {"name": "pts"}, "transform": [{"filter": {"field": "panel", "equal": "C1.3"}}], "mark": {"type": "point", "shape": "diamond", "size": 80, "filled": false, "stroke": "#0a0a9a", "strokeWidth": 1.2}, "encoding": {"x": {"field": "GSI", "type": "quantitative", "scale": {"domain": [-1.16, 20.36], "nice": false, "zero": false}, "axis": {"orient": "top", "values": [0, 5, 10, 15, 20], "labels": false, "title": null}}, "y": {"field": "cortisol", "type": "quantitative", "scale": {"domain": [-24.5, 412], "nice": false, "zero": false}, "axis": null}}}
]},
{"width": 257, "height": 324, "layer": [
{"data": {"name": "strips"}, "transform": [{"filter": {"field": "panel", "equal": "C1.6"}}], "mark": {"type": "rect", "fill": "#c4d1d1", "stroke": "#000000", "strokeWidth": 1}, "encoding": {"x": {"datum": -1.16, "type": "quantitative", "scale": {"domain": [-1.16, 20.36], "nice": false, "zero": false}, "axis": {"orient": "top", "values": [0, 5, 10, 15, 20], "labelExpr": "datum.value == 20 ? '' : datum.label", "title": null}}, "x2": {"datum": 20.36}, "y": {"datum": 377, "type": "quantitative", "scale": {"domain": [-24.5, 412], "nice": false, "zero": false}, "axis": {"orient": "right", "values": [0, 100, 200, 300], "labels": false, "title": null}}, "y2": {"datum": 412}}},
{"data": {"name": "strips"}, "transform": [{"filter": {"field": "panel", "equal": "C1.6"}}], "mark": {"type": "text", "font": "Liberation Serif", "fontWeight": "bold", "fontSize": 20, "baseline": "middle", "align": "center", "color": "#000000"}, "encoding": {"x": {"datum": 9.6, "type": "quantitative", "scale": {"domain": [-1.16, 20.36], "nice": false, "zero": false}, "axis": {"orient": "top", "values": [0, 5, 10, 15, 20], "labelExpr": "datum.value == 20 ? '' : datum.label", "title": null}}, "y": {"datum": 394.5, "type": "quantitative", "scale": {"domain": [-24.5, 412], "nice": false, "zero": false}, "axis": {"orient": "right", "values": [0, 100, 200, 300], "labels": false, "title": null}}, "text": {"field": "panel"}}},
{"data": {"name": "fits"}, "transform": [{"filter": {"field": "panel", "equal": "C1.6"}}, {"filter": {"field": "band", "oneOf": ["upper", "lower"]}}], "mark": {"type": "line", "stroke": "#a6a6a6", "strokeWidth": 1.3, "strokeDash": [6, 4]}, "encoding": {"x": {"field": "GSI", "type": "quantitative", "scale": {"domain": [-1.16, 20.36], "nice": false, "zero": false}, "axis": {"orient": "top", "values": [0, 5, 10, 15, 20], "labelExpr": "datum.value == 20 ? '' : datum.label", "title": null}}, "y": {"field": "cortisol", "type": "quantitative", "scale": {"domain": [-24.5, 412], "nice": false, "zero": false}, "axis": {"orient": "right", "values": [0, 100, 200, 300], "labels": false, "title": null}}, "detail": {"field": "band", "type": "nominal"}}},
{"data": {"name": "fits"}, "transform": [{"filter": {"field": "panel", "equal": "C1.6"}}, {"filter": {"field": "band", "equal": "fit"}}], "mark": {"type": "line", "stroke": "#00008b", "strokeWidth": 1.2}, "encoding": {"x": {"field": "GSI", "type": "quantitative", "scale": {"domain": [-1.16, 20.36], "nice": false, "zero": false}, "axis": {"orient": "top", "values": [0, 5, 10, 15, 20], "labelExpr": "datum.value == 20 ? '' : datum.label", "title": null}}, "y": {"field": "cortisol", "type": "quantitative", "scale": {"domain": [-24.5, 412], "nice": false, "zero": false}, "axis": {"orient": "right", "values": [0, 100, 200, 300], "labels": false, "title": null}}}},
{"data": {"name": "pts"}, "transform": [{"filter": {"field": "panel", "equal": "C1.6"}}], "mark": {"type": "point", "shape": "diamond", "size": 80, "filled": false, "stroke": "#0a0a9a", "strokeWidth": 1.2}, "encoding": {"x": {"field": "GSI", "type": "quantitative", "scale": {"domain": [-1.16, 20.36], "nice": false, "zero": false}, "axis": {"orient": "top", "values": [0, 5, 10, 15, 20], "labelExpr": "datum.value == 20 ? '' : datum.label", "title": null}}, "y": {"field": "cortisol", "type": "quantitative", "scale": {"domain": [-24.5, 412], "nice": false, "zero": false}, "axis": {"orient": "right", "values": [0, 100, 200, 300], "labels": false, "title": null}}}}
]},
{"width": 257, "height": 324, "layer": [
{"data": {"name": "strips"}, "transform": [{"filter": {"field": "panel", "equal": "Swum control"}}], "mark": {"type": "rect", "fill": "#bfbfbf", "stroke": "#000000", "strokeWidth": 1}, "encoding": {"x": {"datum": -1.16, "type": "quantitative", "scale": {"domain": [-1.16, 20.36], "nice": false, "zero": false}, "axis": {"orient": "bottom", "values": [0, 5, 10, 15, 20], "labelExpr": "datum.value == 20 ? '' : datum.label", "title": null}}, "x2": {"datum": 20.36}, "y": {"datum": 377, "type": "quantitative", "scale": {"domain": [-24.5, 412], "nice": false, "zero": false}, "axis": {"orient": "left", "values": [0, 100, 200, 300], "labels": false, "title": null}}, "y2": {"datum": 412}}},
{"data": {"name": "strips"}, "transform": [{"filter": {"field": "panel", "equal": "Swum control"}}], "mark": {"type": "text", "font": "Liberation Serif", "fontWeight": "bold", "fontSize": 20, "baseline": "middle", "align": "center", "color": "#000000"}, "encoding": {"x": {"datum": 9.6, "type": "quantitative", "scale": {"domain": [-1.16, 20.36], "nice": false, "zero": false}, "axis": {"orient": "bottom", "values": [0, 5, 10, 15, 20], "labelExpr": "datum.value == 20 ? '' : datum.label", "title": null}}, "y": {"datum": 394.5, "type": "quantitative", "scale": {"domain": [-24.5, 412], "nice": false, "zero": false}, "axis": {"orient": "left", "values": [0, 100, 200, 300], "labels": false, "title": null}}, "text": {"field": "panel"}}},
{"data": {"name": "fits"}, "transform": [{"filter": {"field": "panel", "equal": "Swum control"}}, {"filter": {"field": "band", "oneOf": ["upper", "lower"]}}], "mark": {"type": "line", "stroke": "#a6a6a6", "strokeWidth": 1.3, "strokeDash": [6, 4]}, "encoding": {"x": {"field": "GSI", "type": "quantitative", "scale": {"domain": [-1.16, 20.36], "nice": false, "zero": false}, "axis": {"orient": "bottom", "values": [0, 5, 10, 15, 20], "labelExpr": "datum.value == 20 ? '' : datum.label", "title": null}}, "y": {"field": "cortisol", "type": "quantitative", "scale": {"domain": [-24.5, 412], "nice": false, "zero": false}, "axis": {"orient": "left", "values": [0, 100, 200, 300], "labels": false, "title": null}}, "detail": {"field": "band", "type": "nominal"}}},
{"data": {"name": "fits"}, "transform": [{"filter": {"field": "panel", "equal": "Swum control"}}, {"filter": {"field": "band", "equal": "fit"}}], "mark": {"type": "line", "stroke": "#00008b", "strokeWidth": 1.2}, "encoding": {"x": {"field": "GSI", "type": "quantitative", "scale": {"domain": [-1.16, 20.36], "nice": false, "zero": false}, "axis": {"orient": "bottom", "values": [0, 5, 10, 15, 20], "labelExpr": "datum.value == 20 ? '' : datum.label", "title": null}}, "y": {"field": "cortisol", "type": "quantitative", "scale": {"domain": [-24.5, 412], "nice": false, "zero": false}, "axis": {"orient": "left", "values": [0, 100, 200, 300], "labels": false, "title": null}}}},
{"data": {"name": "pts"}, "transform": [{"filter": {"field": "panel", "equal": "Swum control"}}], "mark": {"type": "point", "shape": "diamond", "size": 80, "filled": false, "stroke": "#0a0a9a", "strokeWidth": 1.2}, "encoding": {"x": {"field": "GSI", "type": "quantitative", "scale": {"domain": [-1.16, 20.36], "nice": false, "zero": false}, "axis": {"orient": "bottom", "values": [0, 5, 10, 15, 20], "labelExpr": "datum.value == 20 ? '' : datum.label", "title": null}}, "y": {"field": "cortisol", "type": "quantitative", "scale": {"domain": [-24.5, 412], "nice": false, "zero": false}, "axis": {"orient": "left", "values": [0, 100, 200, 300], "labels": false, "title": null}}}}
]},
{"width": 257, "height": 324, "layer": [
{"data": {"name": "strips"}, "transform": [{"filter": {"field": "panel", "equal": "C3.0"}}], "mark": {"type": "rect", "fill": "#c4d1d1", "stroke": "#000000", "strokeWidth": 1}, "encoding": {"x": {"datum": -1.16, "type": "quantitative", "scale": {"domain": [-1.16, 20.36], "nice": false, "zero": false}, "axis": {"orient": "bottom", "values": [0, 5, 10, 15, 20], "labels": false, "title": "GSI", "titleX": 257, "titleY": 59, "titleAlign": "center", "titleBaseline": "middle"}}, "x2": {"datum": 20.36}, "y": {"datum": 377, "type": "quantitative", "scale": {"domain": [-24.5, 412], "nice": false, "zero": false}, "axis": null}, "y2": {"datum": 412}}},
{"data": {"name": "strips"}, "transform": [{"filter": {"field": "panel", "equal": "C3.0"}}], "mark": {"type": "text", "font": "Liberation Serif", "fontWeight": "bold", "fontSize": 20, "baseline": "middle", "align": "center", "color": "#000000"}, "encoding": {"x": {"datum": 9.6, "type": "quantitative", "scale": {"domain": [-1.16, 20.36], "nice": false, "zero": false}, "axis": {"orient": "bottom", "values": [0, 5, 10, 15, 20], "labels": false, "title": "GSI", "titleX": 257, "titleY": 59, "titleAlign": "center", "titleBaseline": "middle"}}, "y": {"datum": 394.5, "type": "quantitative", "scale": {"domain": [-24.5, 412], "nice": false, "zero": false}, "axis": null}, "text": {"field": "panel"}}},
{"data": {"name": "fits"}, "transform": [{"filter": {"field": "panel", "equal": "C3.0"}}, {"filter": {"field": "band", "oneOf": ["upper", "lower"]}}], "mark": {"type": "line", "stroke": "#a6a6a6", "strokeWidth": 1.3, "strokeDash": [6, 4]}, "encoding": {"x": {"field": "GSI", "type": "quantitative", "scale": {"domain": [-1.16, 20.36], "nice": false, "zero": false}, "axis": {"orient": "bottom", "values": [0, 5, 10, 15, 20], "labels": false, "title": "GSI", "titleX": 257, "titleY": 59, "titleAlign": "center", "titleBaseline": "middle"}}, "y": {"field": "cortisol", "type": "quantitative", "scale": {"domain": [-24.5, 412], "nice": false, "zero": false}, "axis": null}, "detail": {"field": "band", "type": "nominal"}}},
{"data": {"name": "fits"}, "transform": [{"filter": {"field": "panel", "equal": "C3.0"}}, {"filter": {"field": "band", "equal": "fit"}}], "mark": {"type": "line", "stroke": "#00008b", "strokeWidth": 1.2}, "encoding": {"x": {"field": "GSI", "type": "quantitative", "scale": {"domain": [-1.16, 20.36], "nice": false, "zero": false}, "axis": {"orient": "bottom", "values": [0, 5, 10, 15, 20], "labels": false, "title": "GSI", "titleX": 257, "titleY": 59, "titleAlign": "center", "titleBaseline": "middle"}}, "y": {"field": "cortisol", "type": "quantitative", "scale": {"domain": [-24.5, 412], "nice": false, "zero": false}, "axis": null}}},
{"data": {"name": "pts"}, "transform": [{"filter": {"field": "panel", "equal": "C3.0"}}], "mark": {"type": "point", "shape": "diamond", "size": 80, "filled": false, "stroke": "#0a0a9a", "strokeWidth": 1.2}, "encoding": {"x": {"field": "GSI", "type": "quantitative", "scale": {"domain": [-1.16, 20.36], "nice": false, "zero": false}, "axis": {"orient": "bottom", "values": [0, 5, 10, 15, 20], "labels": false, "title": "GSI", "titleX": 257, "titleY": 59, "titleAlign": "center", "titleBaseline": "middle"}}, "y": {"field": "cortisol", "type": "quantitative", "scale": {"domain": [-24.5, 412], "nice": false, "zero": false}, "axis": null}}}
]},
{"width": 257, "height": 324, "layer": [
{"data": {"name": "strips"}, "transform": [{"filter": {"field": "panel", "equal": "C3.3"}}], "mark": {"type": "rect", "fill": "#c4d1d1", "stroke": "#000000", "strokeWidth": 1}, "encoding": {"x": {"datum": -1.16, "type": "quantitative", "scale": {"domain": [-1.16, 20.36], "nice": false, "zero": false}, "axis": {"orient": "bottom", "values": [0, 5, 10, 15, 20], "labelExpr": "datum.value == 20 ? '' : datum.label", "title": null}}, "x2": {"datum": 20.36}, "y": {"datum": 377, "type": "quantitative", "scale": {"domain": [-24.5, 412], "nice": false, "zero": false}, "axis": null}, "y2": {"datum": 412}}},
{"data": {"name": "strips"}, "transform": [{"filter": {"field": "panel", "equal": "C3.3"}}], "mark": {"type": "text", "font": "Liberation Serif", "fontWeight": "bold", "fontSize": 20, "baseline": "middle", "align": "center", "color": "#000000"}, "encoding": {"x": {"datum": 9.6, "type": "quantitative", "scale": {"domain": [-1.16, 20.36], "nice": false, "zero": false}, "axis": {"orient": "bottom", "values": [0, 5, 10, 15, 20], "labelExpr": "datum.value == 20 ? '' : datum.label", "title": null}}, "y": {"datum": 394.5, "type": "quantitative", "scale": {"domain": [-24.5, 412], "nice": false, "zero": false}, "axis": null}, "text": {"field": "panel"}}},
{"data": {"name": "fits"}, "transform": [{"filter": {"field": "panel", "equal": "C3.3"}}, {"filter": {"field": "band", "oneOf": ["upper", "lower"]}}], "mark": {"type": "line", "stroke": "#a6a6a6", "strokeWidth": 1.3, "strokeDash": [6, 4]}, "encoding": {"x": {"field": "GSI", "type": "quantitative", "scale": {"domain": [-1.16, 20.36], "nice": false, "zero": false}, "axis": {"orient": "bottom", "values": [0, 5, 10, 15, 20], "labelExpr": "datum.value == 20 ? '' : datum.label", "title": null}}, "y": {"field": "cortisol", "type": "quantitative", "scale": {"domain": [-24.5, 412], "nice": false, "zero": false}, "axis": null}, "detail": {"field": "band", "type": "nominal"}}},
{"data": {"name": "fits"}, "transform": [{"filter": {"field": "panel", "equal": "C3.3"}}, {"filter": {"field": "band", "equal": "fit"}}], "mark": {"type": "line", "stroke": "#00008b", "strokeWidth": 1.2}, "encoding": {"x": {"field": "GSI", "type": "quantitative", "scale": {"domain": [-1.16, 20.36], "nice": false, "zero": false}, "axis": {"orient": "bottom", "values": [0, 5, 10, 15, 20], "labelExpr": "datum.value == 20 ? '' : datum.label", "title": null}}, "y": {"field": "cortisol", "type": "quantitative", "scale": {"domain": [-24.5, 412], "nice": false, "zero": false}, "axis": null}}},
{"data": {"name": "pts"}, "transform": [{"filter": {"field": "panel", "equal": "C3.3"}}], "mark": {"type": "point", "shape": "diamond", "size": 80, "filled": false, "stroke": "#0a0a9a", "strokeWidth": 1.2}, "encoding": {"x": {"field": "GSI", "type": "quantitative", "scale": {"domain": [-1.16, 20.36], "nice": false, "zero": false}, "axis": {"orient": "bottom", "values": [0, 5, 10, 15, 20], "labelExpr": "datum.value == 20 ? '' : datum.label", "title": null}}, "y": {"field": "cortisol", "type": "quantitative", "scale": {"domain": [-24.5, 412], "nice": false, "zero": false}, "axis": null}}}
]},
{"width": 257, "height": 324, "layer": [
{"data": {"name": "strips"}, "transform": [{"filter": {"field": "panel", "equal": "C3.6"}}], "mark": {"type": "rect", "fill": "#c4d1d1", "stroke": "#000000", "strokeWidth": 1}, "encoding": {"x": {"datum": -1.16, "type": "quantitative", "scale": {"domain": [-1.16, 20.36], "nice": false, "zero": false}, "axis": {"orient": "bottom", "values": [0, 5, 10, 15, 20], "labels": false, "title": null}}, "x2": {"datum": 20.36}, "y": {"datum": 377, "type": "quantitative", "scale": {"domain": [-24.5, 412], "nice": false, "zero": false}, "axis": {"orient": "right", "values": [0, 100, 200, 300], "title": null}}, "y2": {"datum": 412}}},
{"data": {"name": "strips"}, "transform": [{"filter": {"field": "panel", "equal": "C3.6"}}], "mark": {"type": "text", "font": "Liberation Serif", "fontWeight": "bold", "fontSize": 20, "baseline": "middle", "align": "center", "color": "#000000"}, "encoding": {"x": {"datum": 9.6, "type": "quantitative", "scale": {"domain": [-1.16, 20.36], "nice": false, "zero": false}, "axis": {"orient": "bottom", "values": [0, 5, 10, 15, 20], "labels": false, "title": null}}, "y": {"datum": 394.5, "type": "quantitative", "scale": {"domain": [-24.5, 412], "nice": false, "zero": false}, "axis": {"orient": "right", "values": [0, 100, 200, 300], "title": null}}, "text": {"field": "panel"}}},
{"data": {"name": "fits"}, "transform": [{"filter": {"field": "panel", "equal": "C3.6"}}, {"filter": {"field": "band", "oneOf": ["upper", "lower"]}}], "mark": {"type": "line", "stroke": "#a6a6a6", "strokeWidth": 1.3, "strokeDash": [6, 4]}, "encoding": {"x": {"field": "GSI", "type": "quantitative", "scale": {"domain": [-1.16, 20.36], "nice": false, "zero": false}, "axis": {"orient": "bottom", "values": [0, 5, 10, 15, 20], "labels": false, "title": null}}, "y": {"field": "cortisol", "type": "quantitative", "scale": {"domain": [-24.5, 412], "nice": false, "zero": false}, "axis": {"orient": "right", "values": [0, 100, 200, 300], "title": null}}, "detail": {"field": "band", "type": "nominal"}}},
{"data": {"name": "fits"}, "transform": [{"filter": {"field": "panel", "equal": "C3.6"}}, {"filter": {"field": "band", "equal": "fit"}}], "mark": {"type": "line", "stroke": "#00008b", "strokeWidth": 1.2}, "encoding": {"x": {"field": "GSI", "type": "quantitative", "scale": {"domain": [-1.16, 20.36], "nice": false, "zero": false}, "axis": {"orient": "bottom", "values": [0, 5, 10, 15, 20], "labels": false, "title": null}}, "y": {"field": "cortisol", "type": "quantitative", "scale": {"domain": [-24.5, 412], "nice": false, "zero": false}, "axis": {"orient": "right", "values": [0, 100, 200, 300], "title": null}}}},
{"data": {"name": "pts"}, "transform": [{"filter": {"field": "panel", "equal": "C3.6"}}], "mark": {"type": "point", "shape": "diamond", "size": 80, "filled": false, "stroke": "#0a0a9a", "strokeWidth": 1.2}, "encoding": {"x": {"field": "GSI", "type": "quantitative", "scale": {"domain": [-1.16, 20.36], "nice": false, "zero": false}, "axis": {"orient": "bottom", "values": [0, 5, 10, 15, 20], "labels": false, "title": null}}, "y": {"field": "cortisol", "type": "quantitative", "scale": {"domain": [-24.5, 412], "nice": false, "zero": false}, "axis": {"orient": "right", "values": [0, 100, 200, 300], "title": null}}}}
]}
],
"config": {
"view": {"stroke": "#000000", "strokeWidth": 1},
"axis": {"grid": false, "domain": false, "ticks": true, "tickColor": "#000000", "tickSize": 10, "tickWidth": 1, "labelFont": "Liberation Sans", "labelFontSize": 15, "labelColor": "#000000", "labelFlush": false, "labelOverlap": false, "titleFont": "Liberation Serif", "titleFontSize": 21, "titleFontWeight": "normal", "titleColor": "#000000"},
"axisX": {"labelPadding": 5},
"axisY": {"labelPadding": 8}
}
}
